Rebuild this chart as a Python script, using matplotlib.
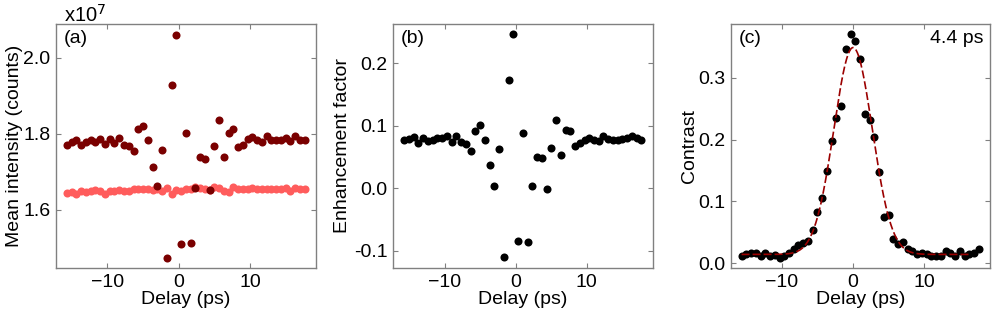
import matplotlib
matplotlib.use("Agg")
import matplotlib.pyplot as plt
import numpy as np

plt.rcParams['font.family'] = ['Liberation Sans', 'DejaVu Sans']
plt.rcParams['font.size'] = 14
plt.rcParams['axes.unicode_minus'] = True

# Delay grid (ps)
delay = [-15.67, -15.00, -14.33, -13.67, -13.00, -12.33, -11.67, -11.00, -10.33, -9.67,
         -9.00, -8.33, -7.67, -7.00, -6.33, -5.67, -5.00, -4.33, -3.67, -3.00,
         -2.33, -1.67, -1.00, -0.33, 0.33, 1.00, 1.67, 2.33, 3.00, 3.67,
         4.33, 5.00, 5.67, 6.33, 7.00, 7.67, 8.33, 9.00, 9.67, 10.33,
         11.00, 11.67, 12.33, 13.00, 13.67, 14.33, 15.00, 15.67, 16.33, 17.00, 17.67]

# (a) mean intensity, units of 1e7 counts
intensity_on = [1.771, 1.777, 1.782, 1.770, 1.779, 1.783, 1.779, 1.785, 1.772, 1.786,
                1.774, 1.788, 1.771, 1.768, 1.753, 1.811, 1.819, 1.782, 1.711, 1.661,
                1.756, 1.473, 1.929, 2.059, 1.510, 1.802, 1.513, 1.656, 1.738, 1.733,
                1.652, 1.767, 1.835, 1.738, 1.802, 1.813, 1.765, 1.771, 1.785, 1.791,
                1.782, 1.777, 1.793, 1.784, 1.784, 1.784, 1.788, 1.781, 1.793, 1.784, 1.784]
intensity_off = [1.644, 1.646, 1.642, 1.648, 1.647, 1.650, 1.652, 1.650, 1.641, 1.648,
                 1.648, 1.651, 1.649, 1.650, 1.654, 1.655, 1.653, 1.653, 1.651, 1.653,
                 1.650, 1.656, 1.642, 1.652, 1.648, 1.654, 1.655, 1.659, 1.656, 1.654,
                 1.652, 1.660, 1.656, 1.650, 1.647, 1.660, 1.655, 1.653, 1.655, 1.656,
                 1.655, 1.654, 1.654, 1.654, 1.655, 1.654, 1.657, 1.648, 1.656, 1.653, 1.655]

# (b) enhancement factor
enhancement = [0.077, 0.079, 0.082, 0.073, 0.080, 0.075, 0.078, 0.080, 0.080, 0.084,
               0.074, 0.084, 0.074, 0.071, 0.060, 0.092, 0.102, 0.077, 0.037, 0.004,
               0.062, -0.111, 0.173, 0.247, -0.084, 0.089, -0.087, 0.004, 0.050, 0.049,
               -0.001, 0.064, 0.109, 0.053, 0.093, 0.091, 0.067, 0.072, 0.077, 0.081,
               0.078, 0.075, 0.083, 0.079, 0.077, 0.078, 0.079, 0.081, 0.083, 0.080, 0.078]

# (c) contrast
contrast = [0.012, 0.014, 0.016, 0.017, 0.012, 0.016, 0.011, 0.013, 0.009, 0.012,
            0.017, 0.023, 0.029, 0.033, 0.036, 0.054, 0.082, 0.106, 0.149, 0.198,
            0.235, 0.255, 0.346, 0.371, 0.360, 0.331, 0.241, 0.231, 0.204, 0.148,
            0.075, 0.078, 0.039, 0.031, 0.034, 0.022, 0.020, 0.015, 0.017, 0.014,
            0.011, 0.012, 0.011, 0.019, 0.017, 0.012, 0.019, 0.011, 0.015, 0.017, 0.022]

# Gaussian fit parameters for (c)
fit_base = 0.014
fit_amp = 0.335
fit_center = 0.0
fit_sigma = 2.7
fit_range = (-15.67, 16.3)
fit_label = "4.4 ps"

dark_red = "#7a0000"
light_red = "#ff5c5c"
spine_col = "#808080"

fig = plt.figure(figsize=(9.97, 3.16), dpi=100)
W, H = 997, 316
def rect(l, r, t, b):
    return [l / W, (H - b) / H, (r - l) / W, (b - t) / H]

ax_a = fig.add_axes(rect(56, 316, 23.5, 268))
ax_b = fig.add_axes(rect(393.3, 652.7, 23.5, 268))
ax_c = fig.add_axes(rect(730.7, 990, 23.5, 268))

ms = 5.8
ax_a.plot(delay, intensity_off, 'o', color=light_red, ms=ms, mec='none')
ax_a.plot(delay, intensity_on, 'o', color=dark_red, ms=ms, mec='none')
ax_b.plot(delay, enhancement, 'o', color='black', ms=ms, mec='none')
ax_c.plot(delay, contrast, 'o', color='black', ms=ms, mec='none')
tfit = np.linspace(fit_range[0], fit_range[1], 400)
ax_c.plot(tfit, fit_base + fit_amp * np.exp(-(tfit - fit_center) ** 2 / (2 * fit_sigma ** 2)),
          color="#9b0000", lw=1.2, ls=(0, (4.8, 1.8)))

ax_a.set_ylim(1.446, 2.09)
ax_b.set_ylim(-0.128, 0.264)
ax_c.set_ylim(-0.008, 0.388)
ax_a.set_yticks([1.6, 1.8, 2.0])
ax_b.set_yticks([-0.1, 0.0, 0.1, 0.2])
ax_c.set_yticks([0.0, 0.1, 0.2, 0.3])

for ax in (ax_a, ax_b, ax_c):
    ax.set_xlim(-17.2, 19.25)
    ax.set_xticks([-10, 0, 10])
    ax.tick_params(direction='in', top=True, right=True, length=3.5, width=0.8,
                   color=spine_col, labelsize=14, pad=4)
    for s in ax.spines.values():
        s.set_color(spine_col)
        s.set_linewidth(1.0)
    ax.set_xlabel("Delay (ps)", fontsize=14, labelpad=0)

for ax in (ax_a, ax_b, ax_c):
    ax.yaxis.set_major_formatter(matplotlib.ticker.FormatStrFormatter('%.1f'))

ax_a.set_ylabel("Mean intensity (counts)", fontsize=14, labelpad=0)
ax_b.set_ylabel("Enhancement factor", fontsize=14, labelpad=2)
ax_c.set_ylabel("Contrast", fontsize=14, labelpad=0)

ax_a.text(0.03, 0.975, "(a)", transform=ax_a.transAxes, ha='left', va='top', fontsize=14)
ax_b.text(0.03, 0.975, "(b)", transform=ax_b.transAxes, ha='left', va='top', fontsize=14)
ax_c.text(0.03, 0.975, "(c)", transform=ax_c.transAxes, ha='left', va='top', fontsize=14)
ax_c.text(0.975, 0.975, fit_label, transform=ax_c.transAxes, ha='right', va='top', fontsize=14)
ax_a.text(0.03, 0.99, r"x10$^{7}$", transform=ax_a.transAxes, ha='left', va='bottom', fontsize=14.5)

fig.savefig("out.png", dpi=100)
